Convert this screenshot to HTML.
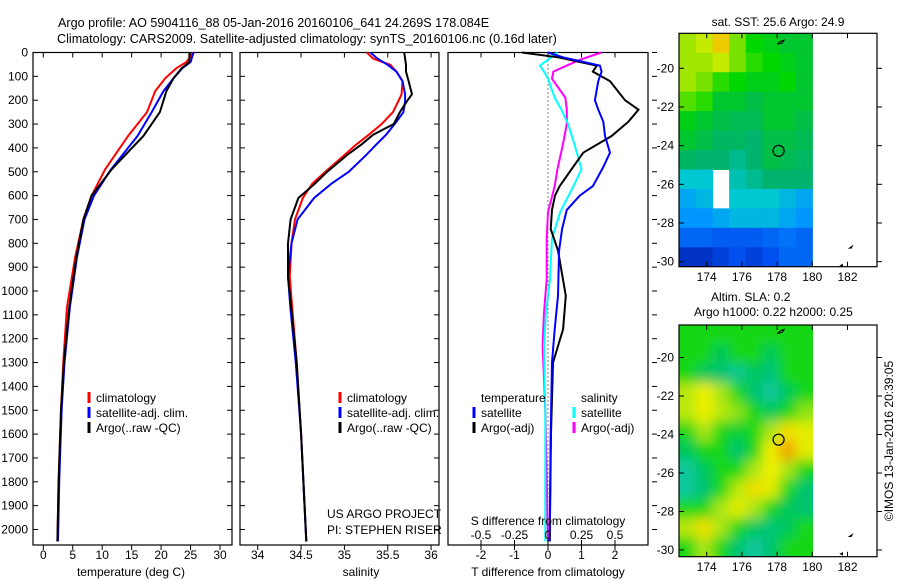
<!DOCTYPE html>
<html><head><meta charset="utf-8">
<style>
html,body{margin:0;padding:0;background:#fff;}
svg{display:block;font-family:"Liberation Sans",sans-serif;}
text{fill:#000;}
</style></head>
<body>
<svg id="fig" width="900" height="580" viewBox="0 0 900 580" xmlns="http://www.w3.org/2000/svg">
<defs>
<filter id="blur" x="0" y="0" width="1" height="1"><feGaussianBlur stdDeviation="6"/></filter>
<clipPath id="clipm1"><rect x="679" y="33" width="134" height="234"/></clipPath>
<clipPath id="clipm2"><rect x="679" y="325" width="134" height="232"/></clipPath>
</defs>
<text x="58" y="27" font-size="12.6">Argo profile: AO 5904116_88 05-Jan-2016 20160106_641 24.269S 178.084E</text>
<text x="57" y="43" font-size="12.6">Climatology: CARS2009. Satellite-adjusted climatology: synTS_20160106.nc (0.16d later)</text>
<g id="g"></g>
</svg>
<script>
// ---- data ----
const depthTicks=[0,100,200,300,400,500,600,700,800,900,1000,1100,1200,1300,1400,1500,1600,1700,1800,1900,2000];
const tempTicks=[0,5,10,15,20,25,30];
const salTicks=[34,34.5,35,35.5,36];
const salTickLabels=["34","34.5","35","35.5","36"];
const tdiffTicks=[-2,-1,0,1,2];
const sdiffTicks=[-0.5,-0.25,0,0.25,0.5];
const sdiffTickLabels=["-0.5","-0.25","0","0.25","0.5"];

const tempDepth=[0,40,66,108,162,250,350,490,600,700,860,1070,1300,1500,1800,2050];
const tempClim=[25.5,24.3,22.6,20.7,19.0,17.6,14.4,10.5,8.2,6.8,5.4,4.0,3.4,3.0,2.6,2.4];
const tempSat=[25.5,25.0,23.6,22.1,20.4,18.4,16.0,11.5,8.6,7.0,5.7,4.5,3.6,3.1,2.7,2.5];
const tempArgo=[24.8,24.8,23.5,22.1,20.9,19.8,17.0,11.6,8.2,6.8,5.6,4.4,3.5,3.0,2.6,2.4];

const salDepth=[0,25,52,80,120,175,205,250,300,345,385,430,500,550,610,700,800,940,1080,1300,1600,2050];
const salClim=[35.26,35.33,35.53,35.60,35.67,35.66,35.62,35.56,35.43,35.28,35.14,35.00,34.78,34.63,34.52,34.43,34.39,34.37,34.40,34.45,34.50,34.56];
const salSat=[35.30,35.38,35.50,35.60,35.67,35.70,35.70,35.68,35.58,35.48,35.37,35.25,35.05,34.85,34.65,34.46,34.39,34.35,34.38,34.44,34.50,34.56];
const salArgo=[35.69,35.70,35.71,35.71,35.74,35.78,35.72,35.64,35.57,35.33,35.20,35.03,34.80,34.66,34.47,34.38,34.35,34.35,34.39,34.45,34.50,34.56];

const tdDepth=[0,20,55,80,120,200,240,290,350,420,480,560,600,660,740,830,1020,1160,1300,1600,2050];
const tdiffSat=[0,0.45,1.55,1.6,1.5,1.4,1.5,1.65,1.7,1.85,1.65,1.34,0.95,0.56,0.42,0.33,0.3,0.2,0.12,0.08,0.05];
const tdiffArgo=[-0.78,0.3,1.46,1.34,1.85,2.3,2.7,2.4,1.9,1.05,0.75,0.35,0.21,0.12,0.08,0.3,0.53,0.45,0.15,0.09,0.05];
const sdDepth=[0,30,55,80,110,190,240,300,390,490,560,670,780,950,1090,1230,1500,2050];
const sdiffSat=[0.07,0.0,-0.06,-0.03,0,0.05,0.1,0.15,0.2,0.25,0.19,0.09,0.03,0.015,-0.015,-0.03,-0.02,-0.02];
const sdiffArgo=[0.4,0.24,0.14,0.04,0.03,0.13,0.14,0.14,0.11,0.07,0.05,0,-0.01,-0.01,-0.03,-0.04,-0.02,0.0];

const lonTicks=[174,176,178,180,182];
const latTicks=[-20,-22,-24,-26,-28,-30];
// SST map grid rows from north to south, cols 172.44..180 (deg C, null=no data)
const sstGrid=[
[25.8,25.9,26.1,25.7,25.4,25.3,25.2,25.2],
[25.8,25.8,25.9,25.7,25.5,25.4,25.3,25.2],
[25.8,25.7,25.5,25.4,25.3,25.3,25.4,25.2],
[25.6,25.5,25.2,25.2,25.1,25.2,25.2,25.2],
[25.3,25.2,25.1,25.0,25.0,25.2,25.2,25.1],
[25.2,25.1,24.9,24.9,24.8,25.1,25.1,25.0],
[24.9,24.8,24.8,24.7,24.8,25.1,25.0,24.9],
[24.5,24.5,null,24.6,24.7,24.8,24.8,24.8],
[24.3,24.4,null,24.5,24.5,24.5,24.4,24.3],
[24.2,24.2,24.3,24.4,24.4,24.4,24.3,24.2],
[24.0,24.0,23.95,23.95,23.95,24.0,24.05,24.0],
[23.8,23.8,23.85,23.9,23.85,23.9,24.0,24.0]];
// SLA map grid (m)
const slaGrid=[
[0.10,0.10,0.10,0.10,0.10,0.10,0.10,0.10],
[0.10,0.10,0.06,0.10,0.10,0.06,0.10,0.10],
[0.10,0.06,0.05,0.02,0.06,0.04,0.10,0.10],
[0.16,0.20,0.15,0.10,0.05,0.01,0.06,0.10],
[0.16,0.20,0.16,0.14,0.10,0.06,0.10,0.14],
[0.10,0.15,0.10,0.08,0.10,0.15,0.21,0.19],
[0.06,0.10,0.10,0.05,0.10,0.20,0.25,0.19],
[0.01,0.06,0.10,0.10,0.15,0.20,0.15,0.10],
[0.01,0.05,0.10,0.16,0.21,0.19,0.10,0.05],
[0.10,0.10,0.15,0.19,0.15,0.10,0.06,0.05],
[0.16,0.21,0.15,0.10,0.06,0.04,0.06,0.10],
[0.10,0.15,0.10,0.05,0.01,0.05,0.10,0.10]];

// ---- helpers ----
const NS="http://www.w3.org/2000/svg";
const G=document.getElementById('g');
function mk(tag,attrs,parent){const e=document.createElementNS(NS,tag);for(const k in attrs)e.setAttribute(k,attrs[k]);(parent||G).appendChild(e);return e;}
function txt(x,y,s,size,anchor,parent){const t=mk('text',{x:x,y:y,'font-size':size||12,'text-anchor':anchor||'start'},parent);t.textContent=s;return t;}
const yD=d=>52.5+d*0.2385;
const PTOP=52.5,PBOT=545;

function panel(x0,x1,name){
  const r=mk('rect',{x:x0,y:PTOP,width:x1-x0,height:PBOT-PTOP,fill:'none',stroke:'#000','stroke-width':1.2});
  
  
  depthTicks.forEach(d=>{
    const l=mk('line',{x1:x0,x2:x0+5,y1:yD(d),y2:yD(d),stroke:'#000'});
    
    
    const l2=mk('line',{x1:x1-5,x2:x1,y1:yD(d),y2:yD(d),stroke:'#000'});
    
    
  });
}
function xticks(xs,fx,labels,name,top){
  xs.forEach((v,i)=>{
    const x=fx(v);
    const l=mk('line',{x1:x,x2:x,y1:PBOT,y2:PBOT+5,stroke:'#000'});
    
    
    if(top){const l2=mk('line',{x1:x,x2:x,y1:PTOP,y2:PTOP+5,stroke:'#000'});
      
      }
    const t=txt(x,559,labels[i],12,'middle');
    
    
  });
}
function series(vals,depths,fx,color,name){
  const pts=vals.map((v,i)=>fx(v).toFixed(1)+','+yD(depths[i]).toFixed(1)).join(' ');
  const p=mk('polyline',{points:pts,fill:'none',stroke:color,'stroke-width':2,'stroke-linejoin':'miter'});
  
  
}
function legend(x,y,color,label,name){
  const l=mk('line',{x1:x,x2:x,y1:y-10,y2:y+1,stroke:color,'stroke-width':3});
  
  
  const t=txt(x+7,y,label,12);
  
  
}

depthTicks.forEach(d=>{const t=txt(28,yD(d)+4,String(d),12,'end');
  
  });

// Panel 1 temperature
const fxT=v=>43.3+v*5.89;
panel(33,232,'temperature-panel');
xticks(tempTicks,fxT,tempTicks.map(String),'temperature-axis',true);
series(tempClim,tempDepth,fxT,'#ff0000','temperature-climatology-line');
series(tempSat,tempDepth,fxT,'#0000ff','temperature-satellite-line');
series(tempArgo,tempDepth,fxT,'#000000','temperature-argo-line');
let t=txt(131,576,'temperature (deg C)',12,'middle');
legend(89,402,'#ff0000','climatology','temperature-legend-climatology');
legend(89,417,'#0000ff','satellite-adj. clim.','temperature-legend-satellite');
legend(89,432,'#000000','Argo(..raw -QC)','temperature-legend-argo');

// Panel 2 salinity
const fxS=v=>257.7+(v-34)*86.7;
panel(240,439,'salinity-panel');
xticks(salTicks,fxS,salTickLabels,'salinity-axis',true);
series(salClim,salDepth,fxS,'#ff0000','salinity-climatology-line');
series(salSat,salDepth,fxS,'#0000ff','salinity-satellite-line');
series(salArgo,salDepth,fxS,'#000000','salinity-argo-line');
t=txt(361,576,'salinity',12,'middle');
legend(340,402,'#ff0000','climatology','salinity-legend-climatology');
legend(340,417,'#0000ff','satellite-adj. clim.','salinity-legend-satellite');
legend(340,432,'#000000','Argo(..raw -QC)','salinity-legend-argo');
t=txt(327,518,'US ARGO PROJECT',12);
t=txt(327,534,'PI: STEPHEN RISER',12);

// Panel 3 differences
const fxTD=v=>548+v*33.5;
const fxSD=v=>548+v*134;
const x0=448,x1=648;
let r=mk('rect',{x:x0,y:PTOP,width:x1-x0,height:PBOT-PTOP,fill:'none',stroke:'#000','stroke-width':1.2});

depthTicks.forEach(d=>{const l=mk('line',{x1:x1+4,x2:x1+9,y1:yD(d),y2:yD(d),stroke:'#000'});
  });
xticks(tdiffTicks,fxTD,tdiffTicks.map(String),'tdiff-axis',true);
let z=mk('line',{x1:fxTD(0),x2:fxTD(0),y1:PTOP,y2:PBOT,stroke:'#000','stroke-width':1,'stroke-dasharray':'1,3'});

series(sdiffArgo,sdDepth,fxSD,'#ff00ff','salinity-diff-argo-line');
series(sdiffSat,sdDepth,fxSD,'#00ffff','salinity-diff-satellite-line');
series(tdiffArgo,tdDepth,fxTD,'#000000','temperature-diff-argo-line');
series(tdiffSat,tdDepth,fxTD,'#0000ff','temperature-diff-satellite-line');
sdiffTicks.forEach((v,i)=>{const x=fxSD(v);
  const l=mk('line',{x1:x,x2:x,y1:PBOT-5,y2:PBOT,stroke:'#000'});
  
  const tt=txt(x,539,sdiffTickLabels[i],12,'middle');
  });
t=txt(548,525,'S difference from climatology',12,'middle');
t=txt(548,576,'T difference from climatology',12,'middle');
t=txt(481,402,'temperature',12);
t=txt(581,402,'salinity',12);
legend(474,417,'#0000ff','satellite','legend-tdiff-satellite');
legend(474,432,'#000000','Argo(-adj)','legend-tdiff-argo');
legend(574,417,'#00ffff','satellite','legend-sdiff-satellite');
legend(574,432,'#ff00ff','Argo(-adj)','legend-sdiff-argo');

// ---- maps ----
const fxL=lon=>706.7+(lon-174)*17.6;
const LON0=172.44,LON1=180;
function interp(stops,v){
  if(v<=stops[0][0])return 'rgb('+stops[0][1]+')';
  for(let i=1;i<stops.length;i++){if(v<=stops[i][0]){const a=stops[i-1],b=stops[i],f=(v-a[0])/(b[0]-a[0]);
    return 'rgb('+a[1].map((c,k)=>Math.round(c+(b[1][k]-c)*f)).join(',')+')';}}
  return 'rgb('+stops[stops.length-1][1]+')';
}
function sstColor(v){
  return interp([[23.7,[0,20,150]],[23.9,[0,80,240]],[24.2,[0,150,255]],[24.5,[0,200,210]],[24.8,[0,180,110]],[25.1,[0,190,70]],[25.4,[0,215,0]],[25.8,[160,230,0]],[26.0,[235,240,0]],[26.3,[240,130,0]]],v);
}
function slaColor(v){
  return interp([[0.0,[20,200,170]],[0.05,[0,195,110]],[0.10,[20,215,20]],[0.15,[170,230,20]],[0.20,[240,240,0]],[0.25,[240,160,0]]],v);
}
function map(name,top,bot,latTop,latBot,grid,colorFn,clip,blur,lonLabelY){
  const fy=lat=>top+(latTop-lat)*(bot-top)/(latTop-latBot);
  const g=mk('g',{'clip-path':'url(#'+clip+')'});
  
  const inner=mk('g',blur?{filter:'url(#blur)'}:{},g);
  const nr=grid.length,nc=grid[0].length;
  const dLat=(latTop-latBot)/nr,dLon=(LON1-LON0)/nc;
  grid.forEach((row,i)=>row.forEach((v,j)=>{
    if(v===null)return;
    const xa=fxL(LON0+j*dLon),xb=fxL(LON0+(j+1)*dLon),ya=fy(latTop-i*dLat),yb=fy(latTop-(i+1)*dLat);
    const c=mk('rect',{x:xa-(blur?20*(j==0):0),y:ya-(blur?20*(i==0):0),width:xb-xa+0.6+(blur?20*(j==0||j==nc-1):0),height:yb-ya+0.6+(blur?20*(i==0||i==nr-1):0),fill:colorFn(v)},inner);
    
    
  }));
  const fr=mk('rect',{x:679,y:top,width:198,height:bot-top,fill:'none',stroke:'#000','stroke-width':1.2});
  
  lonTicks.forEach(lon=>{const x=fxL(lon);
    const l=mk('line',{x1:x,x2:x,y1:top,y2:top+5,stroke:'#000'});
    const l2=mk('line',{x1:x,x2:x,y1:bot,y2:bot-5,stroke:'#000'});
    const tt=txt(x,lonLabelY,String(lon),12,'middle');});
  latTicks.forEach(lat=>{const y=fy(lat);
    const l=mk('line',{x1:679,x2:684,y1:y,y2:y,stroke:'#000'});
    const l2=mk('line',{x1:877,x2:882,y1:y,y2:y,stroke:'#000'});
    const tt=txt(674,y+4,String(lat),12,'end');});
  const isl=mk('path',{d:'M'+fxL(178)+','+fy(-18.75)+' l4,-3 l3,-1 l-2,3 z M'+fxL(182.1)+','+fy(-29.3)+' l3,-2 l-1,2 z M'+fxL(181.6)+','+fy(-30.2)+' l2,-1 l0,2 z',fill:'none',stroke:'#000','stroke-width':1});
  
  const c=mk('circle',{cx:fxL(178.084),cy:fy(-24.269),r:5.5,fill:'none',stroke:'#000','stroke-width':1.2});
  
}
map('sst-map',33.3,266.7,-18.19,-30.26,sstGrid,sstColor,'clipm1',false,281);
map('sla-map',325,556.7,-18.31,-30.35,slaGrid,slaColor,'clipm2',true,571);
t=txt(778,26,'sat. SST: 25.6 Argo: 24.9',12,'middle');
t=txt(711,301,'Altim. SLA: 0.2',12);
t=txt(694,316,'Argo h1000: 0.22 h2000: 0.25',12);
t=txt(0,0,'©IMOS 13-Jan-2016 20:39:05',12,'middle');t.setAttribute('transform','translate(893,441) rotate(-90)');

</script>
</body></html>
